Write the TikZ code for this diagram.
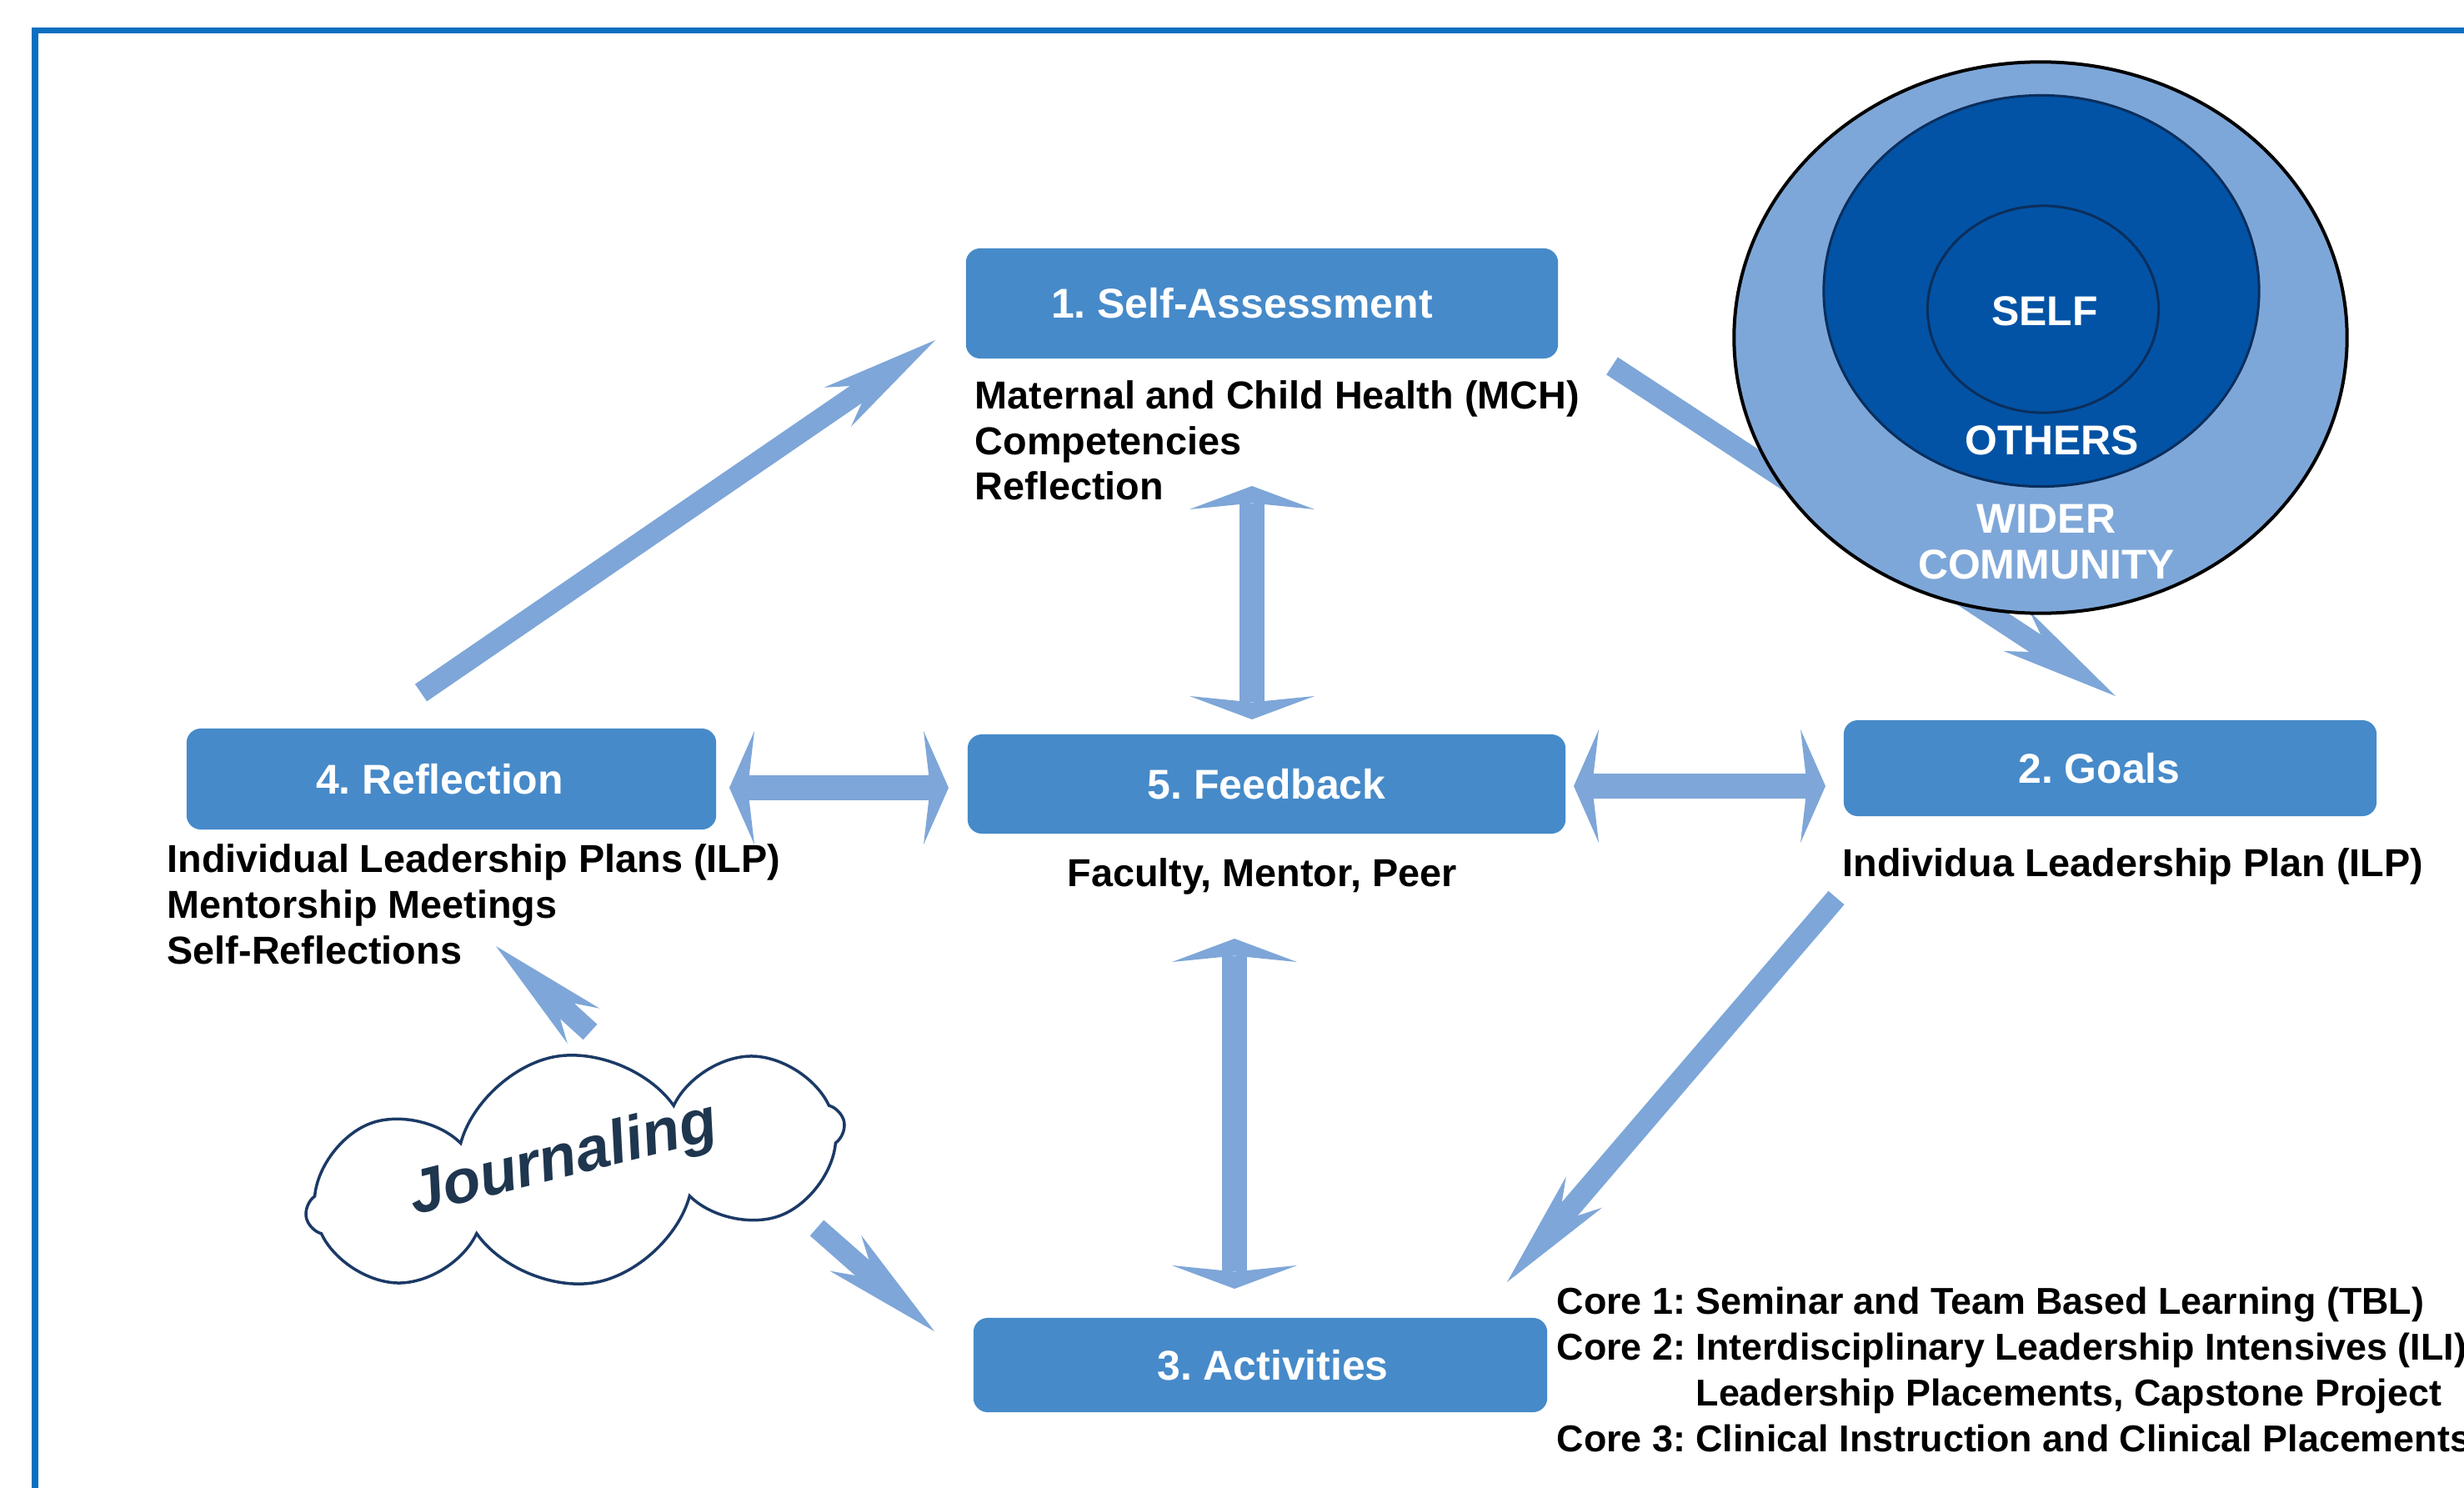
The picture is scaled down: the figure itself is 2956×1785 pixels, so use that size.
\documentclass[tikz,border=0pt]{standalone}
\usepackage{fontspec}
\setmainfont{Liberation Sans}
\usetikzlibrary{arrows.meta,shapes.geometric,shapes.symbols}
\definecolor{framec}{HTML}{0B6FBF}
\definecolor{boxc}{HTML}{468AC9}
\definecolor{arrc}{HTML}{7EA6D8}
\definecolor{outerc}{HTML}{7EA7D9}
\definecolor{midc}{HTML}{0253A5}
\definecolor{navyline}{HTML}{0B2E5C}
\definecolor{cloudc}{HTML}{1B3A66}
\definecolor{jtext}{HTML}{1F364F}
\tikzset{
  stepbox/.style={fill=boxc, rounded corners=0.17cm, text=white,
    font=\fontsize{14.2}{17}\selectfont\bfseries, inner sep=0pt},
  bodytxt/.style={font=\fontsize{13.3}{16}\selectfont\bfseries, text=black,
    inner sep=0pt, anchor=base west},
  coretxt/.style={bodytxt, font=\fontsize{12.75}{16}\selectfont\bfseries},
  ringtxt/.style={text=white, font=\fontsize{14.2}{17}\selectfont\bfseries, inner sep=0pt},
  longarr/.style={draw=arrc, line width=0.25cm,
    -{Stealth[length=1.42cm, width=0.57cm, inset=0.47cm, line width=0pt]}},
  dblarrv/.style={draw=arrc, line width=0.30cm,
    {Stealth[length=0.28cm, width=1.5cm, inset=0.075cm, line width=0pt]}-{Stealth[length=0.28cm, width=1.5cm, inset=0.075cm, line width=0pt]}},
  dblarrh/.style={draw=arrc, line width=0.29cm,
    {Stealth[length=0.30cm, width=1.36cm, inset=0.08cm, line width=0pt]}-{Stealth[length=0.30cm, width=1.36cm, inset=0.08cm, line width=0pt]}},
}
\begin{document}
\frenchspacing
\begin{tikzpicture}[x=0.01cm, y=-0.01cm]
\useasboundingbox (0,0) rectangle (2956,1785);
\fill[white] (0,0) rectangle (2956,1785);
% frame
\draw[framec, line width=0.07cm] (42,1820) -- (42,37) -- (3000,37);

% arrow end points
\coordinate (a41t) at (505,831);   \coordinate (a41h) at (1122,408);
\coordinate (a12t) at (1934,439);  \coordinate (a12h) at (2538,835);
\coordinate (a23t) at (2203,1077); \coordinate (a23h) at (1808,1538);
\coordinate (a15a) at (1502,583);  \coordinate (a15b) at (1502,863);
\coordinate (a53a) at (1481,1126); \coordinate (a53b) at (1481,1546);
\coordinate (a45a) at (875,945);   \coordinate (a45b) at (1138,945);
\coordinate (a52a) at (1888,943);  \coordinate (a52b) at (2190,943);
\coordinate (j4t) at (708,1238);   \coordinate (j4h) at (595,1135);
\coordinate (j3t) at (980,1473);   \coordinate (j3h) at (1121,1597);

% arrows
\draw[longarr] (a41t) -- (a41h);
\draw[longarr] (a12t) -- (a12h);
\draw[longarr] (a23t) -- (a23h);
\draw[dblarrv] (a15a) -- (a15b);
\draw[dblarrv] (a53a) -- (a53b);
\draw[dblarrh] (a45a) -- (a45b);
\draw[dblarrh] (a52a) -- (a52b);

% boxes
\node[stepbox, minimum width=7.10cm, minimum height=1.32cm] (sa) at (1514,364) {1. Self-Assessment\hspace*{0.48cm}};
\node[stepbox, minimum width=6.35cm, minimum height=1.21cm] (re) at (541.5,934.5) {4. Reflection\hspace*{0.28cm}};
\node[stepbox, minimum width=7.17cm, minimum height=1.19cm] (fb) at (1519.5,940.5) {5. Feedback};
\node[stepbox, minimum width=6.39cm, minimum height=1.15cm] (go) at (2531.5,921.5) {2. Goals\hspace*{0.26cm}};
\node[stepbox, minimum width=6.88cm, minimum height=1.13cm] (ac) at (1512,1637.5) {\hspace*{0.3cm}3. Activities};

% rings
\node[ellipse, draw=black, line width=0.04cm, fill=outerc, inner sep=0pt,
      minimum width=7.35cm, minimum height=6.61cm] (wc) at (2448,405) {};
\node[ellipse, draw=navyline, line width=0.03cm, fill=midc, inner sep=0pt,
      minimum width=5.22cm, minimum height=4.69cm] (ot) at (2449,349) {};
\node[ellipse, draw=navyline, line width=0.03cm, fill=midc, inner sep=0pt,
      minimum width=2.77cm, minimum height=2.48cm] (sf) at (2451,371) {};
\node[ringtxt] (tself) at (2453,373) {SELF};
\node[ringtxt] (toth) at (2462,528) {OTHERS};
\node[ringtxt] (twid) at (2455,622) {WIDER};
\node[ringtxt] (tcom) at (2455,677) {COMMUNITY};

% body texts
\node[bodytxt] (sa1) at (1169,490) {Maternal and Child Health (MCH)};
\node[bodytxt] (sa2) at (1169,545) {Competencies};
\node[bodytxt] (sa3) at (1169,600) {Reflection};
\node[bodytxt, anchor=base] (fb1) at (1514,1063) {Faculty, Mentor, Peer};
\node[bodytxt] (re1) at (200,1046) {Individual Leadership Plans (ILP)};
\node[bodytxt] (re2) at (200,1101) {Mentorship Meetings};
\node[bodytxt] (re3) at (200,1156) {Self-Reflections};
\node[bodytxt] (go1) at (2210,1051) {Individua Leadership Plan (ILP)};
\node[coretxt] (ac1) at (1867,1576) {Core 1: Seminar and Team Based Learning (TBL)};
\node[coretxt] (ac2) at (1867,1631) {Core 2: Interdisciplinary Leadership Intensives (ILI)};
\node[coretxt] (ac3) at (1867,1686) {\phantom{Core 2: }Leadership Placements, Capstone Project};
\node[coretxt] (ac4) at (1867,1741) {Core 3: Clinical Instruction and Clinical Placements};

% journaling cloud
\node[cloud, cloud puffs=8, cloud puff arc=130, aspect=2.6, draw=cloudc,
      line width=0.035cm, fill=white, inner sep=0pt,
      minimum width=6.55cm, minimum height=2.75cm, rotate=10] (cl) at (690,1403) {};
\node[rotate=14, text=jtext, inner sep=0pt,
      font=\fontsize{21}{25}\selectfont\bfseries\itshape] (jn) at (676,1393) {Journaling};
\draw[longarr] (j4t) -- (j4h);
\draw[longarr] (j3t) -- (j3h);
\end{tikzpicture}
\end{document}
